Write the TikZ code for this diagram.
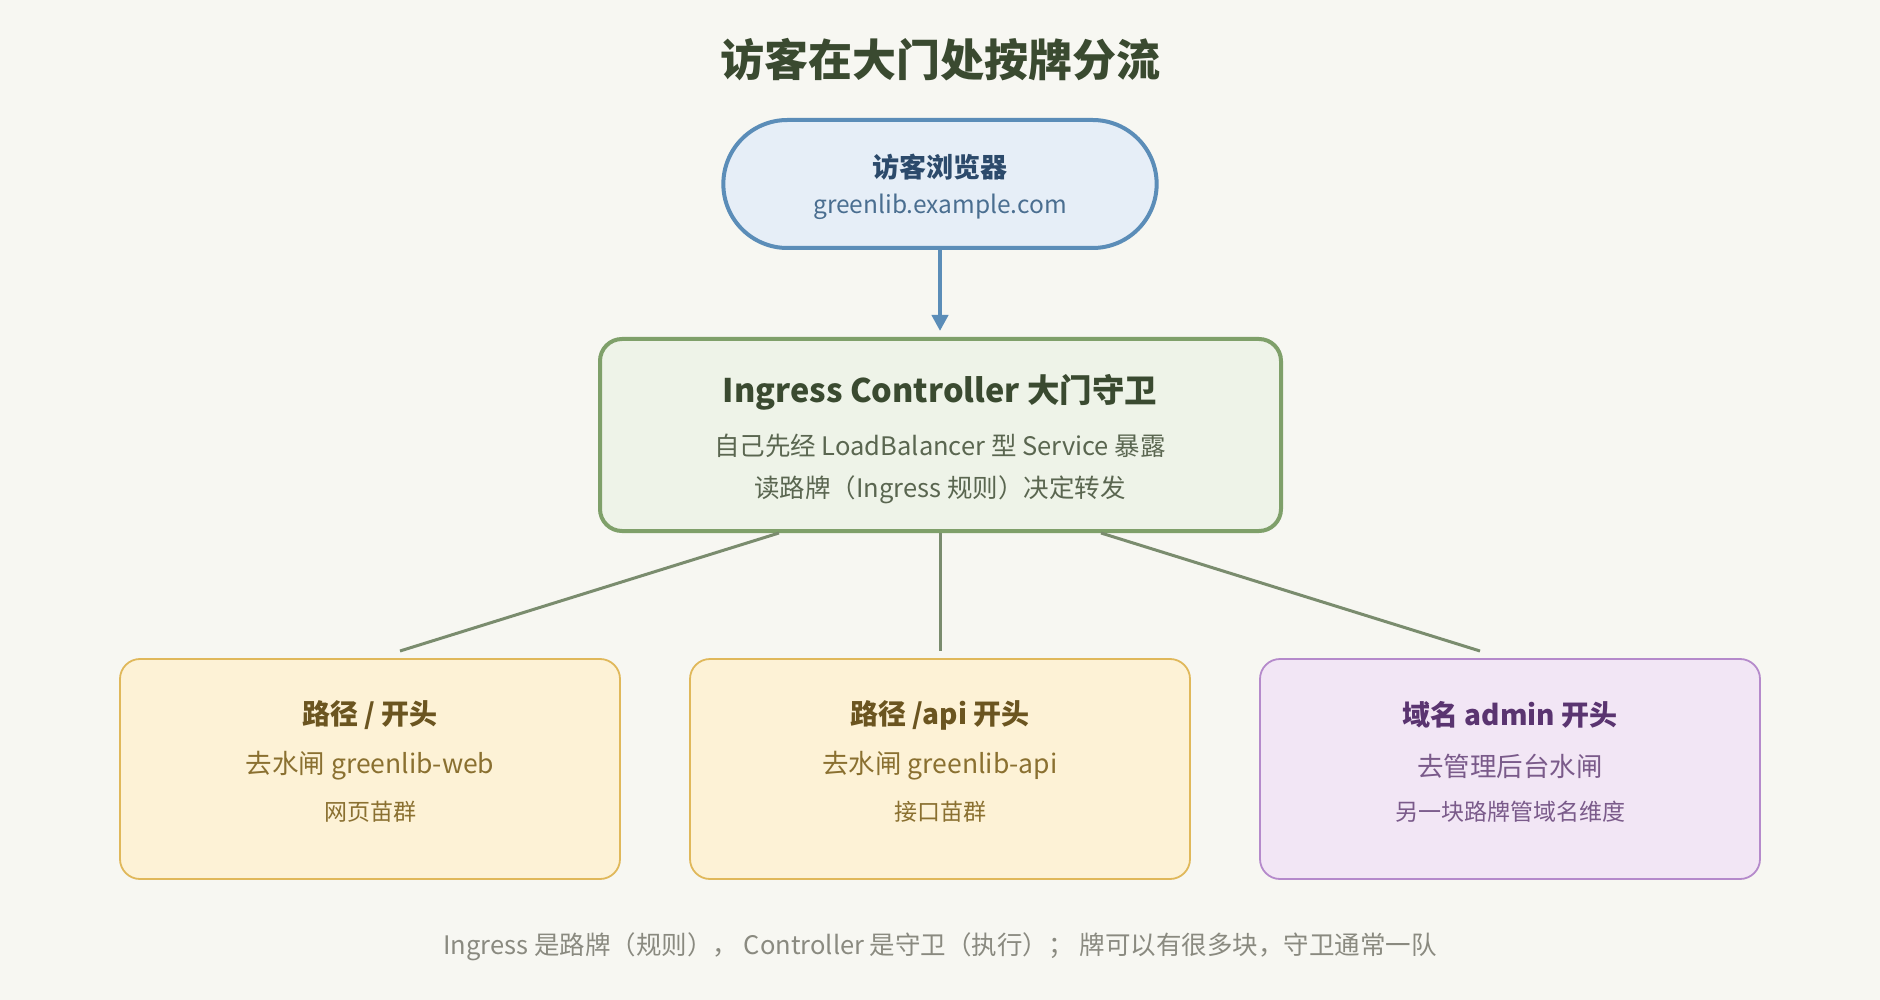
\documentclass[tikz,border=0pt]{standalone}
\usepackage{fontspec}
\setmainfont{Noto Sans CJK SC}
\usetikzlibrary{arrows.meta,shapes.misc}
\definecolor{bg}{HTML}{F7F7F2}
\definecolor{pillF}{HTML}{E6EEF7}\definecolor{pillD}{HTML}{5B8DB8}
\definecolor{pillT}{HTML}{2C4A6B}\definecolor{pillS}{HTML}{4A6E90}
\definecolor{ctlF}{HTML}{EEF3E8}\definecolor{ctlD}{HTML}{7FA06A}
\definecolor{ctlT}{HTML}{3A4A30}\definecolor{ctlS}{HTML}{5A6650}
\definecolor{link}{HTML}{7A8C6E}
\definecolor{yF}{HTML}{FDF2D6}\definecolor{yD}{HTML}{E0B85A}
\definecolor{yT}{HTML}{6B5520}\definecolor{yS}{HTML}{8A7030}
\definecolor{pF}{HTML}{F2E6F5}\definecolor{pD}{HTML}{B58ACB}
\definecolor{pT}{HTML}{5A3470}\definecolor{pS}{HTML}{7A5A8A}
\definecolor{note}{HTML}{8A8A80}
\begin{document}
\begin{tikzpicture}[x=1pt,y=-1pt,
  box/.style={draw, rounded corners=20pt, line width=1.8pt, minimum width=500pt, minimum height=220pt},
  link/.style={draw=link, line width=3pt},
  hd/.style={font=\fontsize{28}{32}\selectfont\bfseries},
  l1/.style={font=\fontsize{26.5}{30}\selectfont},
  l2/.style={font=\fontsize{23}{26}\selectfont}]
\fill[bg] (0,0) rectangle (1880,1000);
\useasboundingbox (0,0) rectangle (1880,1000);
\node[text=ctlT, font=\fontsize{44}{50}\selectfont\bfseries] (title) at (940,60) {访客在大门处按牌分流};
\node[draw=pillD, fill=pillF, line width=4pt, rounded rectangle, minimum width=440pt, minimum height=128pt] (pill) at (940,184) {};
\node[text=pillT, font=\fontsize{27}{30}\selectfont\bfseries] (pillA) at (940,167) {访客浏览器};
\node[text=pillS, font=\fontsize{24.5}{28}\selectfont] (pillB) at (940,207) {greenlib.example.com};
\node[draw=ctlD, fill=ctlF, line width=4pt, rounded corners=22pt, minimum width=681pt, minimum height=192pt] (ctl) at (940.5,435) {};
\node[text=ctlT, font=\fontsize{32.5}{36}\selectfont\bfseries] (ctlA) at (940,392) {Ingress Controller 大门守卫};
\node[text=ctlS, font=\fontsize{25.5}{28}\selectfont] (ctlB) at (940,446) {自己先经 LoadBalancer 型 Service 暴露};
\node[text=ctlS, font=\fontsize{25.5}{28}\selectfont] (ctlC) at (940,490) {读路牌（Ingress 规则）决定转发};
\draw[draw=pillD, line width=4pt, -{Triangle[length=16pt,width=16pt]}] (pill.south) -- (940,331);
\coordinate (e1) at (400,651); \coordinate (e2) at (940,651); \coordinate (e3) at (1480,651);
\coordinate (c1) at (779,533); \coordinate (c2) at (940,533); \coordinate (c3) at (1101,533);
\draw[link] (c1) -- (e1); \draw[link] (c2) -- (e2); \draw[link] (c3) -- (e3);
\node[box, draw=yD, fill=yF] (b1) at (370,769) {};
\node[box, draw=yD, fill=yF] (b2) at (940,769) {};
\node[box, draw=pD, fill=pF] (b3) at (1510,769) {};
\node[hd, text=yT] (t1) at (370,715) {路径 / 开头};
\node[l1, text=yS] (u1) at (370,766) {去水闸 greenlib-web};
\node[l2, text=yS] (v1) at (370,812) {网页苗群};
\node[hd, text=yT] (t2) at (940,715) {路径 /api 开头};
\node[l1, text=yS] (u2) at (940,766) {去水闸 greenlib-api};
\node[l2, text=yS] (v2) at (940,812) {接口苗群};
\node[hd, text=pT] (t3) at (1510,715) {域名 admin 开头};
\node[l1, text=pS] (u3) at (1510,766) {去管理后台水闸};
\node[l2, text=pS] (v3) at (1510,812) {另一块路牌管域名维度};
\node[text=note, font=\fontsize{25.5}{28}\selectfont] (note) at (940,947) {Ingress 是路牌（规则）， Controller 是守卫（执行）； 牌可以有很多块，守卫通常一队};
\end{tikzpicture}
\end{document}
